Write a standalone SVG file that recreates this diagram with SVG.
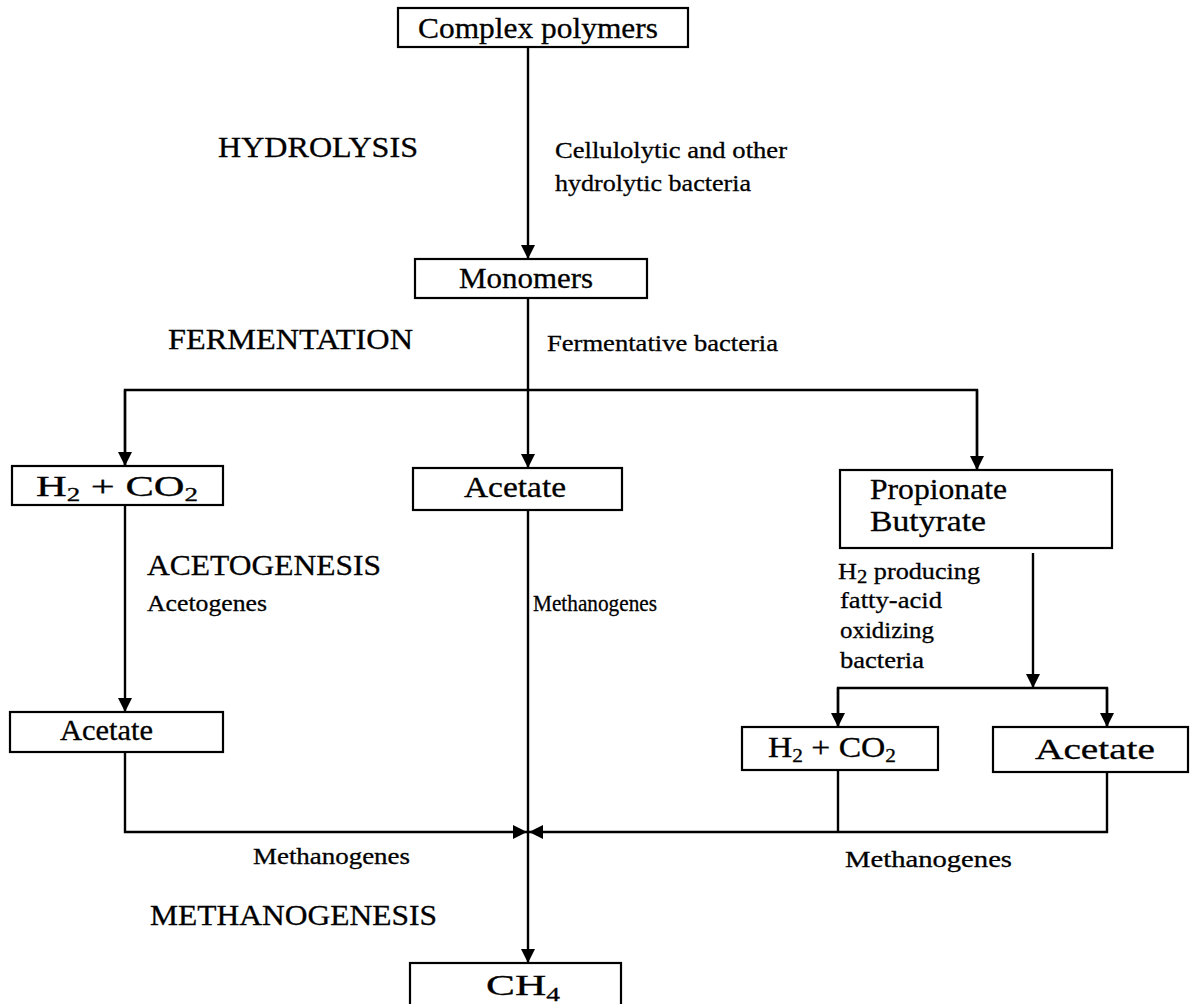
<svg xmlns="http://www.w3.org/2000/svg" width="1193" height="1004" viewBox="0 0 1193 1004">
<style>
.box{fill:#fff;stroke:#000;stroke-width:2.2}
.t{font-family:"Liberation Serif","Times New Roman",serif;fill:#000;stroke:#000;stroke-width:0.3}
.b{font-size:30px}
.s{font-size:24px}
.sub{font-size:19px}
.ln{fill:none;stroke:#000;stroke-width:2.4}
</style>
<defs>
<marker id="ah" markerUnits="userSpaceOnUse" markerWidth="16" markerHeight="16" viewBox="0 0 16 16" refX="14" refY="8" orient="auto">
<path d="M0,1 L14,8 L0,15 Z" fill="#000"/>
</marker>
</defs>
<rect width="1193" height="1004" fill="#fff"/>

<g id="connectors">
<line class="ln" x1="528" y1="47" x2="528" y2="259" marker-end="url(#ah)"/>
<line class="ln" x1="528" y1="298" x2="528" y2="468" marker-end="url(#ah)"/>
<polyline class="ln" points="125,466 125,390 977,390 977,470"/>
<line class="ln" x1="125" y1="390" x2="125" y2="466" marker-end="url(#ah)"/>
<line class="ln" x1="977" y1="390" x2="977" y2="470" marker-end="url(#ah)"/>
<line class="ln" x1="125" y1="505" x2="125" y2="712" marker-end="url(#ah)"/>
<line class="ln" x1="1033" y1="553" x2="1033" y2="688" marker-end="url(#ah)"/>
<polyline class="ln" points="838,727 838,688 1107,688 1107,727"/>
<line class="ln" x1="838" y1="688" x2="838" y2="727" marker-end="url(#ah)"/>
<line class="ln" x1="1107" y1="688" x2="1107" y2="727" marker-end="url(#ah)"/>
<line class="ln" x1="528" y1="510" x2="528" y2="963" marker-end="url(#ah)"/>
<polyline class="ln" points="125,752 125,832 527,832" marker-end="url(#ah)"/>
<polyline class="ln" points="838,770 838,832"/>
<polyline class="ln" points="1107,772 1107,832 529,832" marker-end="url(#ah)"/>
</g>

<g id="n-complex">
<rect class="box" x="398" y="8" width="290" height="39"/>
<text class="t b" x="418" y="38" textLength="240" lengthAdjust="spacingAndGlyphs">Complex polymers</text>
</g>
<g id="n-monomers">
<rect class="box" x="415" y="259" width="232" height="39"/>
<text class="t b" x="459" y="288" textLength="134" lengthAdjust="spacingAndGlyphs">Monomers</text>
</g>
<g id="n-h2co2-left">
<rect class="box" x="12" y="466" width="211" height="39"/>
<text class="t b" x="36" y="496" textLength="162" lengthAdjust="spacingAndGlyphs">H<tspan class="sub" dy="5">2</tspan><tspan dy="-5"> + CO</tspan><tspan class="sub" dy="5">2</tspan></text>
</g>
<g id="n-acetate-center">
<rect class="box" x="413" y="468" width="209" height="42"/>
<text class="t b" x="464" y="497" textLength="102" lengthAdjust="spacingAndGlyphs">Acetate</text>
</g>
<g id="n-propbut">
<rect class="box" x="840" y="470" width="272" height="78"/>
<text class="t b" x="870" y="499" textLength="137" lengthAdjust="spacingAndGlyphs">Propionate</text>
<text class="t b" x="870" y="531" textLength="116" lengthAdjust="spacingAndGlyphs">Butyrate</text>
</g>
<g id="n-acetate-left">
<rect class="box" x="10" y="712" width="213" height="40"/>
<text class="t b" x="60" y="740" textLength="93" lengthAdjust="spacingAndGlyphs">Acetate</text>
</g>
<g id="n-h2co2-right">
<rect class="box" x="742" y="727" width="196" height="43"/>
<text class="t b" x="768" y="757" textLength="128" lengthAdjust="spacingAndGlyphs">H<tspan class="sub" dy="5">2</tspan><tspan dy="-5"> + CO</tspan><tspan class="sub" dy="5">2</tspan></text>
</g>
<g id="n-acetate-right">
<rect class="box" x="993" y="727" width="195" height="45"/>
<text class="t b" x="1035" y="759" textLength="120" lengthAdjust="spacingAndGlyphs">Acetate</text>
</g>
<g id="n-ch4">
<rect class="box" x="410" y="963" width="211" height="50"/>
<text class="t b" x="486" y="995" textLength="74" lengthAdjust="spacingAndGlyphs">CH<tspan class="sub" dy="6">4</tspan></text>
</g>

<g id="labels">
<text class="t b" x="218" y="157" textLength="200" lengthAdjust="spacingAndGlyphs">HYDROLYSIS</text>
<text class="t s" x="555" y="158" textLength="232" lengthAdjust="spacingAndGlyphs">Cellulolytic and other</text>
<text class="t s" x="555" y="191" textLength="196" lengthAdjust="spacingAndGlyphs">hydrolytic bacteria</text>
<text class="t b" x="168" y="349" textLength="245" lengthAdjust="spacingAndGlyphs">FERMENTATION</text>
<text class="t s" x="547" y="351" textLength="231" lengthAdjust="spacingAndGlyphs">Fermentative bacteria</text>
<text class="t b" x="147" y="575" textLength="234" lengthAdjust="spacingAndGlyphs">ACETOGENESIS</text>
<text class="t s" x="147" y="611" textLength="120" lengthAdjust="spacingAndGlyphs">Acetogenes</text>
<text class="t s" x="533" y="611" textLength="124" lengthAdjust="spacingAndGlyphs">Methanogenes</text>
<text class="t s" x="838" y="579" textLength="142" lengthAdjust="spacingAndGlyphs">H<tspan class="sub" dy="4">2</tspan><tspan dy="-4"> producing</tspan></text>
<text class="t s" x="840" y="608" textLength="102" lengthAdjust="spacingAndGlyphs">fatty-acid</text>
<text class="t s" x="840" y="638" textLength="94" lengthAdjust="spacingAndGlyphs">oxidizing</text>
<text class="t s" x="840" y="668" textLength="84" lengthAdjust="spacingAndGlyphs">bacteria</text>
<text class="t s" x="253" y="864" textLength="157" lengthAdjust="spacingAndGlyphs">Methanogenes</text>
<text class="t s" x="845" y="867" textLength="167" lengthAdjust="spacingAndGlyphs">Methanogenes</text>
<text class="t b" x="150" y="925" textLength="287" lengthAdjust="spacingAndGlyphs">METHANOGENESIS</text>
</g>
</svg>
